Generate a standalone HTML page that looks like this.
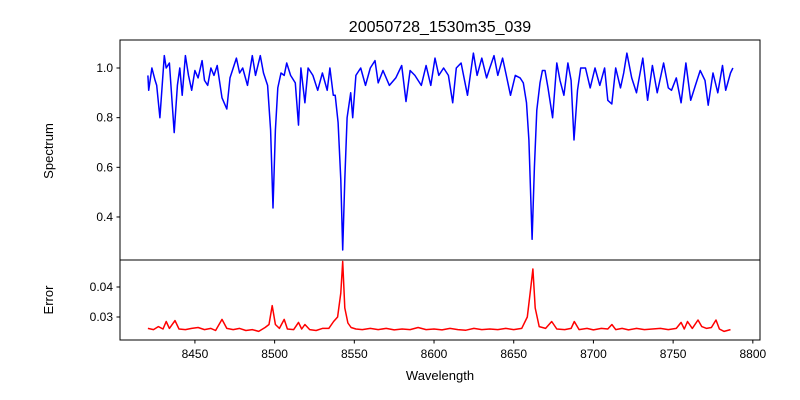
<!DOCTYPE html>
<html><head><meta charset="utf-8"><style>
body{margin:0;background:#fff}
svg{display:block;font-family:"Liberation Sans","DejaVu Sans",sans-serif}
</style></head><body>
<svg id="chart" width="800" height="400">
<rect width="800" height="400" fill="#fff"/>
<text x="440" y="32" font-size="16" text-anchor="middle">20050728_1530m35_039</text>
<g id="topPanel"></g>
<g id="botPanel"></g>
<text transform="translate(53,151) rotate(-90)" font-size="13" text-anchor="middle">Spectrum</text>
<text transform="translate(53,300) rotate(-90)" font-size="13" text-anchor="middle">Error</text>
<text x="440" y="380" font-size="13" text-anchor="middle">Wavelength</text>
</svg>
<script>
const specWl=[8420.5,8421,8423,8425,8426,8428,8430.8,8432,8434,8437,8439,8440.5,8442,8444,8446,8448,8450,8452,8454.5,8456,8458,8460,8462,8464,8467,8470,8472,8474,8476,8478,8480,8483,8486,8488,8491,8493,8495.6,8497.5,8499,8500.5,8502,8504,8506,8507.6,8510,8513,8515,8516.5,8519,8521,8524,8527,8530,8533,8534.7,8536.8,8538,8539.8,8541.5,8542.7,8544,8545.5,8547.7,8549,8551,8554,8557,8560,8563,8565,8568,8572,8576,8579.7,8582.4,8585,8588,8592,8595,8598,8600.6,8603,8606,8609,8611.7,8614,8617,8621,8624.7,8627,8630,8633,8635,8637.6,8640,8643,8645,8648,8651,8654,8656,8658,8659.5,8661.5,8663,8664.5,8666.5,8668,8669.6,8671.5,8674.4,8677,8679,8681.5,8684,8686,8687.8,8690,8692,8695,8698,8701,8704,8707,8709,8711.5,8714,8717,8719,8721,8724,8727,8731,8734,8737,8740,8744,8747,8749,8752,8755,8758,8761,8764,8767,8770,8772,8775,8778,8781,8783,8786,8787.5];
const specFlux=[0.97,0.91,1.0,0.95,0.93,0.80,1.05,1.0,1.02,0.74,0.93,1.0,0.89,1.05,0.97,0.91,0.99,0.96,1.03,0.95,0.93,1.0,0.97,1.01,0.88,0.835,0.96,1.0,1.04,0.98,1.0,0.93,1.05,0.97,1.05,0.98,0.93,0.75,0.436,0.75,0.92,0.98,0.97,1.02,0.97,0.94,0.77,1.0,0.86,1.0,0.97,0.91,0.98,0.91,1.0,0.89,0.89,0.78,0.55,0.267,0.55,0.80,0.90,0.80,0.97,1.0,0.93,1.0,1.03,0.94,0.99,0.93,0.96,1.01,0.865,0.99,0.97,0.93,1.01,0.93,1.04,0.97,1.0,0.97,0.86,1.0,1.02,0.89,1.06,0.97,1.04,0.96,1.0,1.05,0.97,1.04,0.98,0.89,0.97,0.96,0.94,0.86,0.71,0.31,0.60,0.83,0.94,0.99,0.99,0.92,0.80,1.02,0.95,0.89,1.02,0.95,0.71,0.91,1.0,1.0,0.92,1.0,0.93,1.0,0.87,0.855,1.0,0.92,0.98,1.06,0.96,0.90,1.04,0.87,1.01,0.90,1.02,0.92,0.91,0.96,0.86,1.02,0.87,0.93,0.99,0.95,0.85,0.98,0.90,1.01,0.91,0.98,1.0];
const errWl=[8420.5,8424,8427,8430,8432,8434,8437.5,8440,8444,8448,8452,8456,8460,8463,8467,8470,8474,8478,8482,8486,8490,8494,8496.5,8498.5,8500.5,8503,8506,8508,8512,8515,8517,8519,8522,8526,8530,8534,8537,8539.5,8541.5,8542.7,8544,8546,8548,8551,8555,8560,8565,8570,8575,8580,8585,8590,8595,8600,8605,8610,8615,8620,8625,8630,8635,8640,8645,8650,8655,8658.5,8660.5,8662,8663.5,8666,8670,8673.8,8677,8682,8686,8688,8691,8696,8700,8705,8709,8711.6,8714,8718,8722,8727,8732,8737,8742,8747,8752,8755,8757,8759,8762,8765.6,8768,8771,8774,8776.9,8779,8782,8786];
const errVal=[0.0262,0.0258,0.0268,0.0260,0.0285,0.0262,0.0288,0.0260,0.0258,0.0262,0.0265,0.0258,0.0262,0.0255,0.0292,0.0262,0.0258,0.0262,0.0255,0.0258,0.0252,0.0265,0.0275,0.0338,0.0275,0.0262,0.0292,0.0260,0.0258,0.0282,0.0260,0.0275,0.0258,0.0255,0.0262,0.0262,0.0285,0.0300,0.0380,0.0485,0.0330,0.0280,0.0265,0.0260,0.0258,0.0262,0.0258,0.0262,0.0257,0.0260,0.0258,0.0265,0.0258,0.0260,0.0257,0.0262,0.0258,0.0256,0.0262,0.0258,0.0260,0.0258,0.0262,0.0258,0.0262,0.0300,0.0390,0.0460,0.0330,0.0268,0.0262,0.0285,0.0260,0.0258,0.0262,0.0285,0.0258,0.0262,0.0257,0.0262,0.0260,0.0275,0.0258,0.0262,0.0257,0.0262,0.0258,0.0260,0.0262,0.0258,0.0262,0.0282,0.0260,0.0285,0.0262,0.0290,0.0268,0.0262,0.0265,0.0290,0.0260,0.0252,0.0258];
const xTicks=[8450,8500,8550,8600,8650,8700,8750,8800];
const specTicks=[0.4,0.6,0.8,1.0];
const errTicks=[0.03,0.04];

const NS="http://www.w3.org/2000/svg";
const X0=120,X1=760,WMIN=8403,WMAX=8804.5;
const xs=w=>X0+(w-WMIN)/(WMAX-WMIN)*(X1-X0);
const ySpec=v=>68+(1.0-v)*248.3;
const yErr=v=>317-(v-0.03)*3000;
function mk(tag,attrs,parent){const e=document.createElementNS(NS,tag);for(const k in attrs)e.setAttribute(k,attrs[k]);parent.appendChild(e);return e;}
const topG=document.getElementById('topPanel'),botG=document.getElementById('botPanel');
function pts(wl,vals,fy){const n=Math.min(wl.length,vals.length);const a=[];for(let i=0;i<n;i++)a.push(xs(wl[i]).toFixed(1)+','+fy(vals[i]).toFixed(1));return a.join(' ');}

const l1=mk('polyline',{points:pts(specWl,specFlux,ySpec),fill:'none',stroke:'#0000ff','stroke-width':1.5,'stroke-linejoin':'round'},topG);


const l2=mk('polyline',{points:pts(errWl,errVal,yErr),fill:'none',stroke:'#ff0000','stroke-width':1.5,'stroke-linejoin':'round'},botG);



const f1=mk('rect',{x:120,y:40,width:640,height:220,fill:'none',stroke:'#000','stroke-width':1},topG);


const f2=mk('rect',{x:120,y:260,width:640,height:80,fill:'none',stroke:'#000','stroke-width':1},botG);



specTicks.forEach(v=>{const y=ySpec(v);
 mk('line',{x1:116.5,x2:120,y1:y,y2:y,stroke:'#000'},topG);
 const t=mk('text',{x:113,y:y+4,'font-size':12,'text-anchor':'end'},topG);t.textContent=v.toFixed(1);
 
 });
errTicks.forEach(v=>{const y=yErr(v);
 mk('line',{x1:116.5,x2:120,y1:y,y2:y,stroke:'#000'},botG);
 const t=mk('text',{x:113,y:y+4,'font-size':12,'text-anchor':'end'},botG);t.textContent=v.toFixed(2);
 
 });
xTicks.forEach(v=>{const x=xs(v);
 mk('line',{x1:x,x2:x,y1:340,y2:343.5,stroke:'#000'},botG);
 const t=mk('text',{x:x,y:358,'font-size':12,'text-anchor':'middle'},botG);t.textContent=v;
 
 });
</script>
</body></html>
